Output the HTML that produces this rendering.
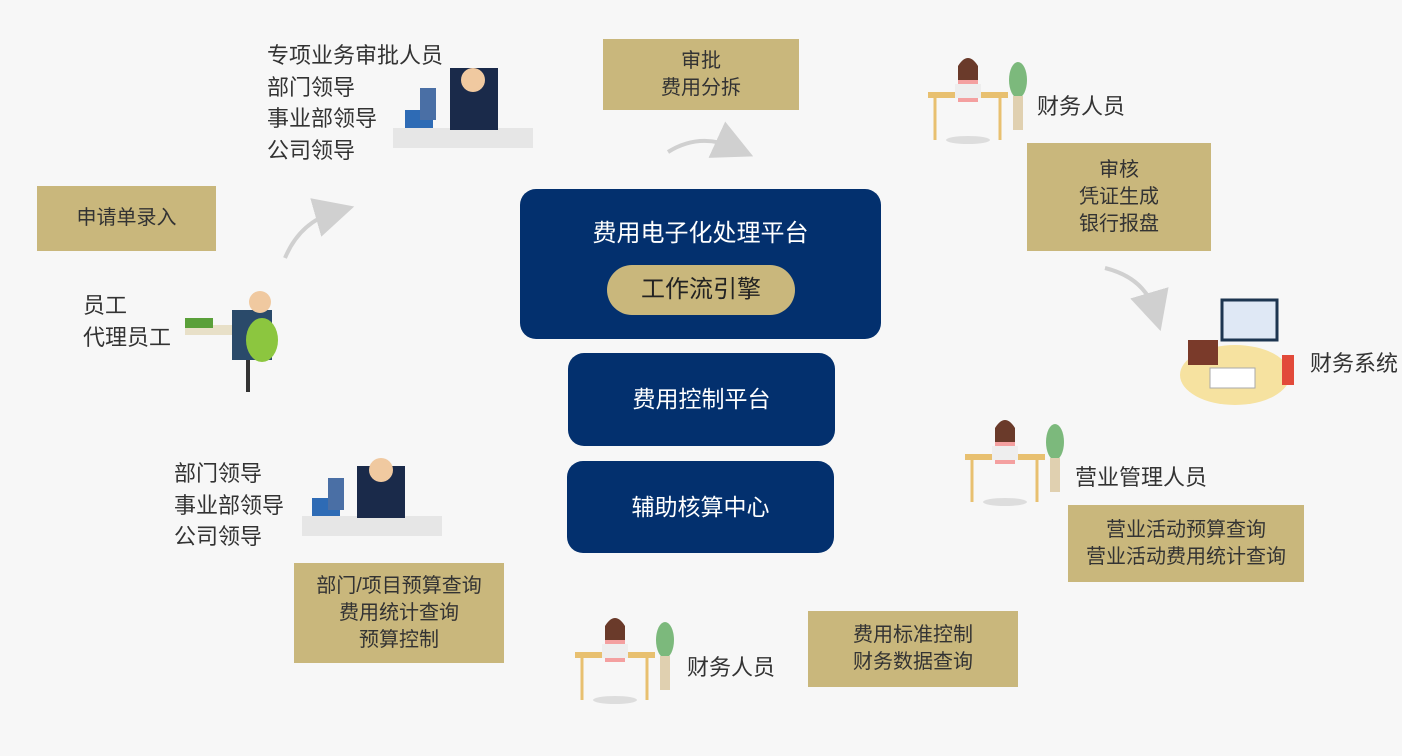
<!DOCTYPE html>
<html><head><meta charset="utf-8">
<style>
*{margin:0;padding:0;box-sizing:border-box}
body{width:1402px;height:756px;background:#f7f7f7;position:relative;overflow:hidden;font-family:"Liberation Sans","Noto Sans CJK SC",sans-serif}
.g{position:absolute;background:#c9b77c;color:#333;font-size:20px;text-align:center;display:flex;flex-direction:column;justify-content:center;line-height:27px}
.n{position:absolute;background:#03306e;color:#fff;border-radius:16px;text-align:center;font-size:24px}
.t{position:absolute;color:#333;font-size:22px;line-height:31.5px}
svg{position:absolute;left:0;top:0}
</style></head><body>
<svg width="1402" height="756">
<defs><marker id="ah" markerWidth="10" markerHeight="10" refX="5" refY="5" orient="auto"><path d="M0,0 L10,5 L0,10 z" fill="#d0d0d0"/></marker></defs>
<path d="M285,258 Q300,222 335,212" stroke="#d0d0d0" stroke-width="4" fill="none" marker-end="url(#ah)"/>
<path d="M668,152 Q700,132 735,148" stroke="#d0d0d0" stroke-width="4" fill="none" marker-end="url(#ah)"/>
<path d="M1105,268 Q1145,278 1155,312" stroke="#d0d0d0" stroke-width="4" fill="none" marker-end="url(#ah)"/>
<g fill="none">
<rect x="393" y="128" width="140" height="20" fill="#e6e6e6"/><rect x="450" y="68" width="48" height="62" fill="#1a2a4a"/><circle cx="473" cy="80" r="12" fill="#f0c9a0"/><rect x="405" y="110" width="28" height="18" fill="#2e6bb5"/><rect x="420" y="88" width="16" height="32" fill="#4a6fa5"/>
<rect x="302" y="516" width="140" height="20" fill="#e6e6e6"/><rect x="357" y="466" width="48" height="52" fill="#1a2a4a"/><circle cx="381" cy="470" r="12" fill="#f0c9a0"/><rect x="312" y="498" width="28" height="18" fill="#2e6bb5"/><rect x="328" y="478" width="16" height="32" fill="#4a6fa5"/>
<rect x="185" y="325" width="70" height="10" fill="#e8e0c8"/><rect x="232" y="310" width="40" height="50" fill="#2a4a6a"/><circle cx="260" cy="302" r="11" fill="#f0c9a0"/><ellipse cx="262" cy="340" rx="16" ry="22" fill="#8cc63f"/><rect x="185" y="318" width="28" height="10" fill="#5aa03a"/><line x1="248" y1="360" x2="248" y2="392" stroke="#333" stroke-width="4"/>
<g id="w"><rect x="928" y="92" width="80" height="6" fill="#e8c070"/><circle cx="968" cy="70" r="10" fill="#f0c9a0"/><path d="M958 66 Q968 50 978 66 L978 80 L958 80 z" fill="#6a3a2a"/><rect x="958" y="80" width="20" height="22" fill="#f4a0a0"/><rect x="955" y="84" width="26" height="14" fill="#eee"/><line x1="935" y1="98" x2="935" y2="140" stroke="#e8c070" stroke-width="3"/><line x1="1000" y1="98" x2="1000" y2="140" stroke="#e8c070" stroke-width="3"/><ellipse cx="1018" cy="80" rx="9" ry="18" fill="#7cb97c"/><rect x="1013" y="96" width="10" height="34" fill="#e0d0b0"/><ellipse cx="968" cy="140" rx="22" ry="4" fill="#ddd"/></g>
<use href="#w" x="37" y="362"/>
<use href="#w" x="-353" y="560"/>
<ellipse cx="1235" cy="375" rx="55" ry="30" fill="#f6e2a0"/><rect x="1222" y="300" width="55" height="40" fill="#dfe8f5" stroke="#1d3550" stroke-width="3"/><rect x="1188" y="340" width="30" height="25" fill="#7a3a2a"/><rect x="1210" y="368" width="45" height="20" fill="#fff" stroke="#aaa"/><rect x="1282" y="355" width="12" height="30" fill="#e24a3a"/>
</g>
</svg>
<div class="g" style="left:603px;top:39px;width:196px;height:71px">审批<br>费用分拆</div>
<div class="g" style="left:37px;top:186px;width:179px;height:65px">申请单录入</div>
<div class="g" style="left:1027px;top:143px;width:184px;height:108px">审核<br>凭证生成<br>银行报盘</div>
<div class="g" style="left:1068px;top:505px;width:236px;height:77px">营业活动预算查询<br>营业活动费用统计查询</div>
<div class="g" style="left:294px;top:563px;width:210px;height:100px">部门/项目预算查询<br>费用统计查询<br>预算控制</div>
<div class="g" style="left:808px;top:611px;width:210px;height:76px">费用标准控制<br>财务数据查询</div>
<div class="n" style="left:520px;top:189px;width:361px;height:150px"><div style="margin-top:24px">费用电子化处理平台</div>
<div style="position:absolute;left:87px;top:76px;width:188px;height:50px;border-radius:25px;background:#c9b77c;color:#222;line-height:50px">工作流引擎</div></div>
<div class="n" style="left:568px;top:353px;width:267px;height:93px;line-height:93px;font-size:23px">费用控制平台</div>
<div class="n" style="left:567px;top:461px;width:267px;height:92px;line-height:92px;font-size:23px">辅助核算中心</div>
<div class="t" style="left:267px;top:40px">专项业务审批人员<br>部门领导<br>事业部领导<br>公司领导</div>
<div class="t" style="left:83px;top:290px">员工<br>代理员工</div>
<div class="t" style="left:174px;top:458px">部门领导<br>事业部领导<br>公司领导</div>
<div class="t" style="left:1037px;top:91px">财务人员</div>
<div class="t" style="left:1310px;top:348px">财务系统</div>
<div class="t" style="left:1075px;top:462px">营业管理人员</div>
<div class="t" style="left:687px;top:652px">财务人员</div>
</body></html>
